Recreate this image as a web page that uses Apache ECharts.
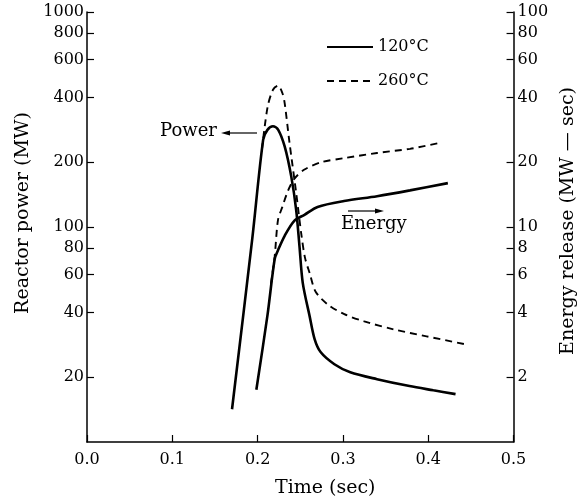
<!DOCTYPE html>
<html>
<head>
<meta charset="utf-8">
<script src="https://cdn.jsdelivr.net/npm/echarts@6/dist/echarts.min.js"></script>
<style>
  html, body { margin: 0; padding: 0; background: #fff; }
  #main { width: 586px; height: 503px; }
</style>
</head>
<body>
<div id="main"></div>
<script>
// Power (MW), left log axis
var powerTime120 = [0.170, 0.1937, 0.2065, 0.2115, 0.218, 0.224, 0.2317, 0.2394, 0.2452, 0.249, 0.2529, 0.261, 0.2668, 0.2738, 0.290, 0.3086, 0.340, 0.378, 0.406, 0.432];
var power120     = [14.2, 88, 255, 283, 294, 284, 237, 172, 120, 82, 55, 38.4, 30.1, 26.2, 23.0, 21.1, 19.6, 18.2, 17.4, 16.7];
var powerTime260 = [0.205, 0.2116, 0.218, 0.2239, 0.229, 0.2317, 0.2374, 0.2452, 0.251, 0.2555, 0.261, 0.268, 0.282, 0.3016, 0.325, 0.3596, 0.398, 0.447];
var power260     = [228, 360, 435, 454, 420, 377, 246, 144, 94, 72, 61, 50, 43.7, 39.3, 36.4, 33.4, 31.0, 28.3];

// Energy release (MW-sec), right log axis
var energyTime120 = [0.1985, 0.2116, 0.220, 0.2239, 0.2317, 0.2432, 0.2549, 0.2703, 0.3013, 0.340, 0.3786, 0.423];
var energy120     = [1.75, 3.9, 7.1, 7.8, 9.1, 10.7, 11.4, 12.4, 13.2, 13.9, 14.8, 16.0];
var energyTime260 = [0.2155, 0.220, 0.2239, 0.229, 0.2355, 0.2432, 0.2549, 0.2742, 0.3013, 0.340, 0.3786, 0.4133];
var energy260     = [5.4, 7.3, 10.8, 12.4, 14.7, 16.8, 18.5, 20.0, 20.9, 22.1, 23.1, 24.6];

var powerTicks  = [20, 40, 60, 80, 100, 200, 400, 600, 800, 1000];
var energyTicks = [2, 4, 6, 8, 10, 20, 40, 60, 80, 100];

var FONT = '"DejaVu Serif", "Liberation Serif", serif';

function pairs(xs, ys) {
    return xs.map(function (x, i) { return [x, ys[i]]; });
}

var chart = echarts.init(document.getElementById('main'));

var axisLine = { show: true, onZero: false, lineStyle: { color: '#000', width: 1.5 } };
var axisTickBase = { show: true, inside: true, length: 7, lineStyle: { color: '#000', width: 1.2 } };
var labelStyle = { color: '#000', fontSize: 16, fontFamily: FONT };
var plainNum = function (v) { return String(v); };

var opt = {
    animation: false,
    backgroundColor: '#fff',
    grid: { left: 87, right: 68, top: 12, bottom: 60, containLabel: false },
    legend: {
        data: ['120°C', '260°C'],
        orient: 'vertical',
        left: 321,
        top: 34,
        itemWidth: 46,
        itemHeight: 14,
        itemGap: 18,
        selectedMode: false,
        itemStyle: { opacity: 0 },
        textStyle: { color: '#000', fontSize: 16, fontFamily: FONT }
    },
    xAxis: {
        type: 'value',
        min: 0, max: 0.5, interval: 0.1,
        axisLine: axisLine,
        axisTick: axisTickBase,
        splitLine: { show: false },
        axisLabel: Object.assign({ margin: 10, formatter: function (v) { return v.toFixed(1); } }, labelStyle),
        name: 'Time (sec)',
        nameLocation: 'middle',
        nameGap: 37,
        nameTextStyle: { color: '#000', fontSize: 19, fontFamily: FONT, padding: [0, 0, 0, 50] }
    },
    yAxis: [
        {
            type: 'log', logBase: 10, min: 10, max: 1000,
            position: 'left',
            axisLine: axisLine,
            axisTick: Object.assign({ customValues: powerTicks }, axisTickBase),
            minorTick: { show: false },
            splitLine: { show: false },
            axisLabel: Object.assign({ margin: 3, customValues: powerTicks, formatter: plainNum }, labelStyle),
            name: 'Reactor power (MW)',
            nameLocation: 'middle',
            nameRotate: 90,
            nameGap: 47,
            nameTextStyle: { color: '#000', fontSize: 19, fontFamily: FONT, padding: [0, 0, 0, 28] }
        },
        {
            type: 'log', logBase: 10, min: 1, max: 100,
            position: 'right',
            axisLine: axisLine,
            axisTick: Object.assign({ customValues: energyTicks }, axisTickBase),
            minorTick: { show: false },
            splitLine: { show: false },
            axisLabel: Object.assign({ margin: 4, customValues: energyTicks, formatter: plainNum }, labelStyle),
            name: 'Energy release (MW — sec)',
            nameLocation: 'middle',
            nameRotate: 90,
            nameGap: 37,
            nameTextStyle: { color: '#000', fontSize: 19, fontFamily: FONT, padding: [0, 0, 0, 12] }
        }
    ],
    series: [
        {
            name: '120°C', type: 'line', yAxisIndex: 0,
            data: pairs(powerTime120, power120),
            symbol: 'none', smooth: 0.3,
            lineStyle: { color: '#000', width: 2.6, type: 'solid' },
            itemStyle: { color: '#000' }
        },
        {
            name: '260°C', type: 'line', yAxisIndex: 0,
            data: pairs(powerTime260, power260),
            symbol: 'none', smooth: 0.3,
            lineStyle: { color: '#000', width: 1.9, type: [7, 5] },
            itemStyle: { color: '#000' }
        },
        {
            name: '120°C', type: 'line', yAxisIndex: 1,
            data: pairs(energyTime120, energy120),
            symbol: 'none', smooth: 0.3,
            lineStyle: { color: '#000', width: 2.6, type: 'solid' },
            itemStyle: { color: '#000' }
        },
        {
            name: '260°C', type: 'line', yAxisIndex: 1,
            data: pairs(energyTime260, energy260),
            symbol: 'none', smooth: 0.3,
            lineStyle: { color: '#000', width: 1.9, type: [7, 5] },
            itemStyle: { color: '#000' }
        }
    ],
    graphic: [
        // "Power <-" label
        { type: 'text', left: 160, top: 122, style: { text: 'Power', font: '18px ' + FONT, fill: '#000' } },
        { type: 'line', shape: { x1: 226, y1: 133, x2: 257, y2: 133 }, style: { stroke: '#000', lineWidth: 1.2 } },
        { type: 'polygon', shape: { points: [[221, 133], [230, 130.5], [230, 135.5]] }, style: { fill: '#000' } },
        // "Energy ->" label
        { type: 'text', left: 341, top: 215, style: { text: 'Energy', font: '18px ' + FONT, fill: '#000' } },
        { type: 'line', shape: { x1: 348, y1: 211, x2: 378, y2: 211 }, style: { stroke: '#000', lineWidth: 1.2 } },
        { type: 'polygon', shape: { points: [[384, 211], [375, 208.5], [375, 213.5]] }, style: { fill: '#000' } }
    ]
};

chart.setOption(opt);
</script>
</body>
</html>
